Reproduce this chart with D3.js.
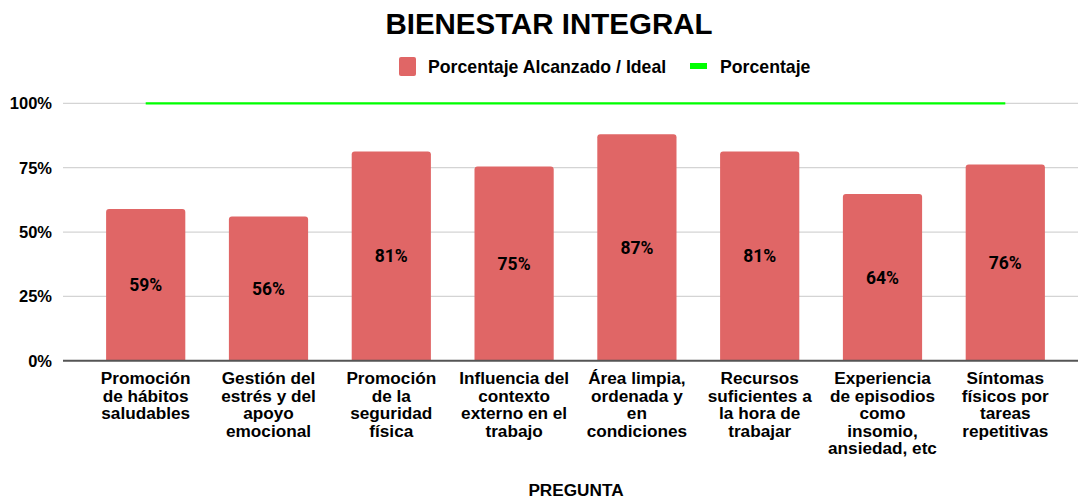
<!DOCTYPE html>
<html>
<head>
<meta charset="utf-8">
<script src="https://cdn.jsdelivr.net/npm/d3@7"></script>
<style>
  body { margin: 0; background: #fff; }
  text { font-family: "Liberation Sans", Arial, sans-serif; font-weight: bold; fill: #000; }
</style>
</head>
<body>
<svg id="chart" width="1081" height="499"></svg>
<script>
// categories (wrapped as in the original)
const categories = [
    ["Promoción", "de hábitos", "saludables"],
    ["Gestión del", "estrés y del", "apoyo", "emocional"],
    ["Promoción", "de la", "seguridad", "física"],
    ["Influencia del", "contexto", "externo en el", "trabajo"],
    ["Área limpia,", "ordenada y", "en", "condiciones"],
    ["Recursos", "suficientes a", "la hora de", "trabajar"],
    ["Experiencia", "de episodios", "como", "insomio,", "ansiedad, etc"],
    ["Síntomas", "físicos por", "tareas", "repetitivas"]
];
const alcanzado = [0.590, 0.560, 0.813, 0.755, 0.880, 0.813, 0.648, 0.762];
const etiquetas = ["59%", "56%", "81%", "75%", "87%", "81%", "64%", "76%"];
const porcentaje = [1, 1, 1, 1, 1, 1, 1, 1];
const yTicks = [0, 0.25, 0.5, 0.75, 1];

const svg = d3.select("#chart");

const x = d3.scaleBand()
    .domain(d3.range(categories.length))
    .range([84, 1067])
    .paddingInner(0.355)
    .paddingOuter(0.18);

const y = d3.scaleLinear().domain([0, 1]).range([360.8, 103.3]);

// title
svg.append("text")
    .attr("x", 549).attr("y", 34)
    .attr("text-anchor", "middle")
    .style("font-size", "29.5px")
    .text("BIENESTAR INTEGRAL");

// legend
const legend = svg.append("g");
legend.append("rect")
    .attr("x", 399).attr("y", 57).attr("width", 17).attr("height", 19).attr("rx", 2)
    .attr("fill", "#e06666");
legend.append("text")
    .attr("x", 428).attr("y", 73)
    .style("font-size", "17.7px")
    .text("Porcentaje Alcanzado / Ideal");
legend.append("rect")
    .attr("x", 690).attr("y", 63).attr("width", 17).attr("height", 6)
    .attr("fill", "#00ff00");
legend.append("text")
    .attr("x", 720).attr("y", 73)
    .style("font-size", "17.7px")
    .text("Porcentaje");

// grid lines
svg.append("g")
    .selectAll("line")
    .data(yTicks.slice(1))
    .enter()
    .append("line")
    .attr("x1", 63).attr("x2", 1078)
    .attr("y1", d => y(d)).attr("y2", d => y(d))
    .attr("stroke", "#d4d4d4")
    .attr("stroke-width", 1.3);

// y tick labels
svg.append("g")
    .selectAll("text")
    .data(yTicks)
    .enter()
    .append("text")
    .attr("x", 52)
    .attr("y", d => y(d))
    .attr("dy", "0.36em")
    .attr("text-anchor", "end")
    .style("font-size", "16.5px")
    .text(d => d3.format(".0%")(d));

// bars (small rounded top corners)
const r = 3;
svg.append("g")
    .selectAll("path")
    .data(alcanzado)
    .enter()
    .append("path")
    .attr("fill", "#e06666")
    .attr("d", (d, i) => {
        const x0 = x(i), w = x.bandwidth(), y0 = y(d), yb = y(0);
        return `M${x0},${yb}V${y0 + r}Q${x0},${y0} ${x0 + r},${y0}H${x0 + w - r}Q${x0 + w},${y0} ${x0 + w},${y0 + r}V${yb}Z`;
    });

// bar value labels
svg.append("g")
    .selectAll("text")
    .data(alcanzado)
    .enter()
    .append("text")
    .attr("x", (d, i) => x(i) + x.bandwidth() / 2)
    .attr("y", d => (y(d) + y(0)) / 2)
    .attr("dy", "0.36em")
    .attr("text-anchor", "middle")
    .style("font-family", "Roboto, sans-serif")
    .style("font-size", "17.5px")
    .text((d, i) => etiquetas[i]);

// baseline
svg.append("line")
    .attr("x1", 63).attr("x2", 1078)
    .attr("y1", y(0)).attr("y2", y(0))
    .attr("stroke", "#555")
    .attr("stroke-width", 2);

// green line
const line = d3.line()
    .x((d, i) => x(i) + x.bandwidth() / 2)
    .y(d => y(d));
svg.append("path")
    .datum(porcentaje)
    .attr("d", line)
    .attr("fill", "none")
    .attr("stroke", "#00ff00")
    .attr("stroke-width", 2.2);

// x labels
const xl = svg.append("g")
    .selectAll("text")
    .data(categories)
    .enter()
    .append("text")
    .attr("x", (d, i) => x(i) + x.bandwidth() / 2)
    .attr("y", 384)
    .attr("text-anchor", "middle")
    .style("font-size", "17.2px");
xl.selectAll("tspan")
    .data(d => d)
    .enter()
    .append("tspan")
    .attr("x", function() { return d3.select(this.parentNode).attr("x"); })
    .attr("dy", (d, i) => i === 0 ? 0 : 17.5)
    .text(d => d);

// axis title
svg.append("text")
    .attr("x", 576).attr("y", 496)
    .attr("text-anchor", "middle")
    .style("font-size", "17.2px")
    .text("PREGUNTA");
</script>
</body>
</html>
